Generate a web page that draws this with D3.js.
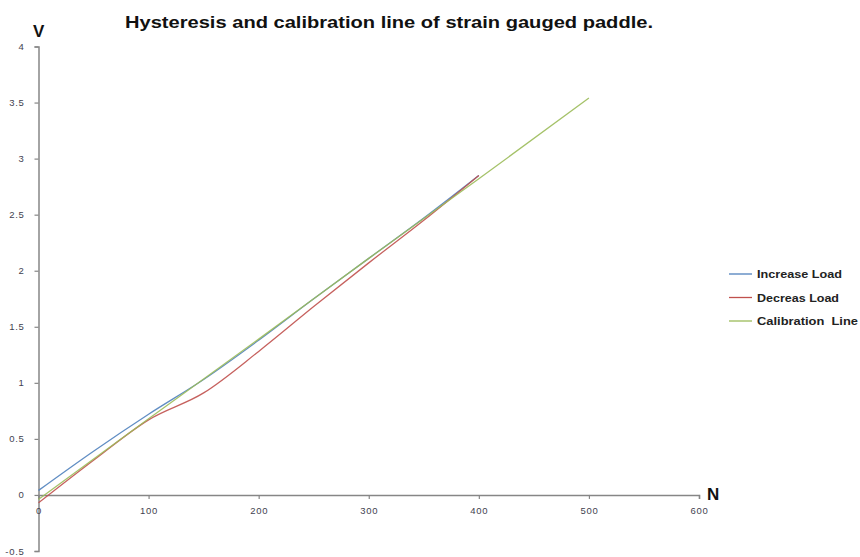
<!DOCTYPE html>
<html>
<head>
<meta charset="utf-8">
<script src="https://cdn.jsdelivr.net/npm/d3@7/dist/d3.min.js"></script>
<style>
  html, body { margin: 0; padding: 0; background: #fff; }
  svg { display: block; }
</style>
</head>
<body>
<svg id="chart" width="860" height="557"></svg>
<script>
// Load in newtons, output in volts
const loadN = [0, 50, 100, 150, 200, 250, 300, 350, 400];
const increaseLoad = [0.04, 0.39, 0.72, 1.03, 1.38, 1.75, 2.11, 2.47, 2.85];
const decreaseLoad = [-0.07, 0.31, 0.67, 0.91, 1.28, 1.68, 2.07, 2.45, 2.85];
const calibrationN = [0, 100, 200, 300, 400, 500];
const calibrationLine = [-0.04, 0.68, 1.39, 2.11, 2.82, 3.54];

const xTicks = [0, 100, 200, 300, 400, 500, 600];
const yTicks = [-0.5, 0, 0.5, 1, 1.5, 2, 2.5, 3, 3.5, 4];

const seriesNames = ["Increase Load", "Decreas Load", "Calibration  Line"];
const seriesColors = ["#4F81BD", "#C0504D", "#9BBB59"];
const legendWidths = [85, 82, 101];

const svg = d3.select("#chart");

const x = d3.scaleLinear().domain([0, 600]).range([38.5, 699]);
const y = d3.scaleLinear().domain([-0.5, 4]).range([551, 46.5]);

const axisColor = "#868686";
const labelColor = "#3f3f50";
const font = "Liberation Sans, Arial, sans-serif";

// Title
svg.append("text")
  .attr("x", 389).attr("y", 28)
  .attr("text-anchor", "middle")
  .attr("font-family", font)
  .attr("font-weight", "bold")
  .attr("font-size", 17)
  .attr("textLength", 528)
  .attr("lengthAdjust", "spacingAndGlyphs")
  .attr("fill", "#111")
  .text("Hysteresis and calibration line of strain gauged paddle.");

function styleAxis(g) {
  g.select(".domain").attr("stroke", axisColor).attr("stroke-width", 1.5);
  g.selectAll(".tick line").attr("stroke", axisColor).attr("stroke-width", 1.2);
  g.selectAll(".tick text")
    .attr("font-family", font)
    .attr("font-size", 9.5)
    .attr("letter-spacing", 0.7)
    .attr("fill", labelColor);
}

// Y axis
const yAxis = svg.append("g")
  .attr("transform", `translate(${x(0)},0)`)
  .call(d3.axisLeft(y).tickValues(yTicks).tickSize(4).tickPadding(10)
    .tickFormat(d => String(d)));
styleAxis(yAxis);

// X axis on the zero line
const xAxis = svg.append("g")
  .attr("transform", `translate(0,${y(0)})`)
  .call(d3.axisBottom(x).tickValues(xTicks).tickSize(4).tickPadding(8)
    .tickFormat(d => String(d)));
styleAxis(xAxis);

// Axis titles
svg.append("text")
  .attr("x", 33).attr("y", 37)
  .attr("font-family", font)
  .attr("font-weight", "bold").attr("font-size", 17)
  .attr("fill", "#111").text("V");
svg.append("text")
  .attr("x", 707).attr("y", 500)
  .attr("font-family", font)
  .attr("font-weight", "bold").attr("font-size", 17)
  .attr("fill", "#111").text("N");

// Series lines
const line = d3.line()
  .x(d => x(d[0]))
  .y(d => y(d[1]))
  .curve(d3.curveMonotoneX);

const series = [
  loadN.map((n, i) => [n, increaseLoad[i]]),
  loadN.map((n, i) => [n, decreaseLoad[i]]),
  calibrationN.map((n, i) => [n, calibrationLine[i]])
];

svg.append("g").selectAll("path")
  .data(series)
  .join("path")
  .attr("d", line)
  .attr("fill", "none")
  .attr("stroke", (d, i) => seriesColors[i])
  .attr("stroke-width", 1.3)
  .attr("stroke-opacity", 0.9);

// Legend
const legend = svg.append("g");
const legendRows = legend.selectAll("g")
  .data(seriesNames)
  .join("g")
  .attr("transform", (d, i) => `translate(729,${274 + i * 23.5})`);
legendRows.append("line")
  .attr("x1", 0).attr("x2", 23).attr("y1", 0).attr("y2", 0)
  .attr("stroke", (d, i) => seriesColors[i]).attr("stroke-width", 1.3);
legendRows.append("text")
  .attr("x", 28).attr("y", 4)
  .attr("font-family", font)
  .attr("font-weight", "bold").attr("font-size", 11)
  .attr("textLength", (d, i) => legendWidths[i])
  .attr("lengthAdjust", "spacingAndGlyphs")
  .attr("fill", "#222")
  .style("white-space", "pre")
  .text(d => d);
</script>
</body>
</html>
